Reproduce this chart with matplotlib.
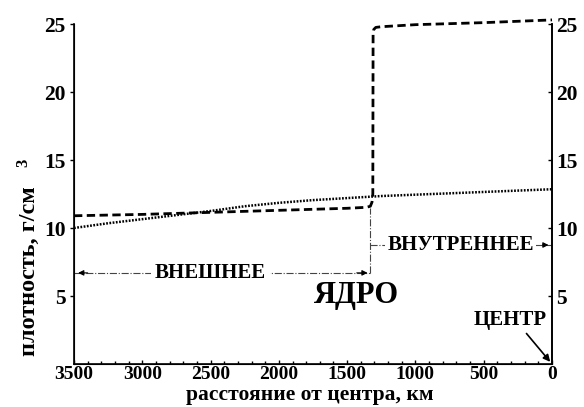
import matplotlib
matplotlib.use("Agg")
import matplotlib.pyplot as plt
import numpy as np

# --- data ---
dashed_km = [3500, 3000, 2500, 2000, 1500, 1360, 1330, 1318, 1312, 1310, 1305, 1290, 1250, 1000, 500, 0]
dashed_rho = [10.9, 11.0, 11.15, 11.3, 11.45, 11.52, 11.6, 11.9, 12.5, 24.2, 24.6, 24.75, 24.8, 24.95, 25.1, 25.3]
dotted_km = [3500, 3250, 3000, 2750, 2500, 2250, 2000, 1750, 1500, 1250, 1000, 750, 500, 250, 0]
dotted_rho = [10.0, 10.35, 10.65, 10.95, 11.25, 11.6, 11.85, 12.05, 12.2, 12.35, 12.45, 12.55, 12.65, 12.75, 12.85]
x_ticks = [3500, 3000, 2500, 2000, 1500, 1000, 500, 0]
y_ticks = [5, 10, 15, 20, 25]
boundary_km = 1330
outer_label = "ВНЕШНЕЕ"
inner_label = "ВНУТРЕННЕЕ"
core_label = "ЯДРО"
center_label = "ЦЕНТР"
xlabel = "расстояние от центра, км"
ylabel = "плотность, г/см"

serif = ['Liberation Serif', 'DejaVu Serif']
plt.rcParams['font.family'] = serif
plt.rcParams['font.weight'] = 'bold'

fig = plt.figure(figsize=(5.84, 4.07), dpi=100)
ax = fig.add_axes([74/584, 1-364/407, (552-74)/584, (364-24)/407])

ax.plot(dashed_km, dashed_rho, color='black', lw=2.0, linestyle=(0, (3.0, 1.6)), clip_on=False)
ax.plot(dotted_km, dotted_rho, color='black', lw=1.8, linestyle=(0, (0.7, 0.6)))

ax.set_xlim(3500, 0)
ax.set_ylim(0, 25)
ax.set_xticks(x_ticks)
ax.set_xticks(np.arange(0, 3501, 100), minor=True)
ax.set_yticks(y_ticks)
ax.tick_params(axis='x', direction='in', length=3, width=1, labelsize=14, pad=1.5)
ax.tick_params(axis='x', which='minor', direction='in', length=2, width=1)
ax.tick_params(axis='y', direction='out', length=3, width=1, labelsize=15.5, pad=3)
for lab in ax.get_xticklabels() + ax.get_yticklabels():
    lab.set_fontweight('bold')
ax.spines['top'].set_visible(False)
for s in ['left', 'bottom', 'right']:
    ax.spines[s].set_linewidth(1.2)

ax2 = ax.twinx()
ax2.set_ylim(0, 25)
ax2.set_yticks(y_ticks)
ax2.tick_params(axis='y', direction='in', length=3, width=1, labelsize=15.5, pad=3)
for lab in ax2.get_yticklabels():
    lab.set_fontweight('bold')
ax2.spines['top'].set_visible(False)
ax2.spines['right'].set_linewidth(1.2)

fig.text(310/584, 1-400/407, xlabel, ha='center', va='baseline',
         fontsize=15.5, fontweight='bold')

fig.text(29/584, 1-271/407, ylabel, rotation=90, ha='center', va='center',
         fontsize=17.5, fontweight='bold')
fig.text(23/584, 1-163/407, "3", rotation=90, ha='center', va='center',
         fontsize=12, fontweight='bold')

lc = '#444444'
# outer core arrow
y_out = 6.7
ax.plot([3500, boundary_km], [y_out, y_out], color=lc, lw=0.8, linestyle='-.')
ax.annotate('', xy=(3490, y_out), xytext=(3380, y_out),
            arrowprops=dict(arrowstyle='-|>', lw=0.8, color='black', mutation_scale=8))
ax.annotate('', xy=(boundary_km, y_out), xytext=(boundary_km + 120, y_out),
            arrowprops=dict(arrowstyle='-|>', lw=0.8, color='black', mutation_scale=8))
ax.text(2500, y_out, outer_label, ha='center', va='center', fontsize=15, fontweight='bold',
        bbox=dict(facecolor='white', edgecolor='none', pad=3))
# boundary vertical line
ax.plot([boundary_km, boundary_km], [y_out, 11.5], color=lc, lw=0.8, linestyle='-.')
# inner core arrow
y_in = 8.75
ax.plot([boundary_km, 0], [y_in, y_in], color=lc, lw=0.8, linestyle='-.')
ax.annotate('', xy=(5, y_in), xytext=(90, y_in),
            arrowprops=dict(arrowstyle='-|>', lw=0.8, color='black', mutation_scale=8))
ax.text(670, y_in, inner_label, ha='center', va='center', fontsize=15, fontweight='bold',
        bbox=dict(facecolor='white', edgecolor='none', pad=2))

ax.text(1430, 5.0, core_label, ha='center', va='center', fontsize=22, fontweight='bold')
ax.text(305, 3.2, center_label, ha='center', va='center', fontsize=15, fontweight='bold')
ax.annotate('', xy=(0, 0), xytext=(200, 2.4),
            arrowprops=dict(arrowstyle='-|>', lw=1.2, color='black', mutation_scale=10))

fig.savefig('out.png', dpi=100)
